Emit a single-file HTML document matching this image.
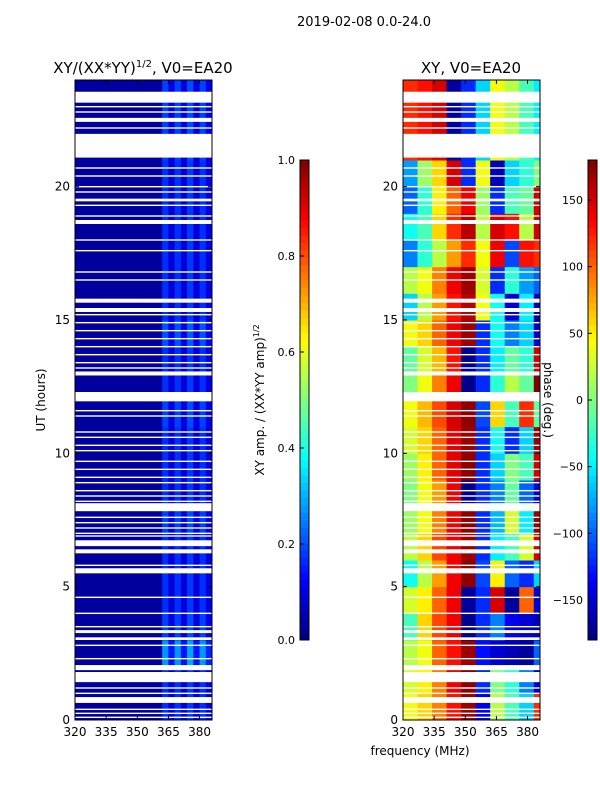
<!DOCTYPE html>
<html><head><meta charset="utf-8"><style>
body{margin:0;background:#fff;}
svg{display:block;font-family:"DejaVu Sans","Liberation Sans",sans-serif;}
</style></head><body>
<svg id="fig" width="600" height="800" xmlns="http://www.w3.org/2000/svg">
<text x="364" y="26" font-size="13" text-anchor="middle">2019-02-08 0.0-24.0</text>
<text x="143" y="73" font-size="15" text-anchor="middle">XY/(XX*YY)<tspan font-size="10" dy="-6">1/2</tspan><tspan dy="6">, V0=EA20</tspan></text>
<text x="471" y="73" font-size="15" text-anchor="middle">XY, V0=EA20</text>
<text x="45" y="400" font-size="12" text-anchor="middle" transform="rotate(-90 45 400)">UT (hours)</text>
<text x="420" y="755" font-size="12" text-anchor="middle">frequency (MHz)</text>
<text x="264" y="400" font-size="12" text-anchor="middle" transform="rotate(-90 264 400)">XY amp. / (XX*YY amp)<tspan font-size="8" dy="-5">1/2</tspan></text>
<g id="p1"></g>
<g id="p2"></g>
<g id="cb"></g>
<text x="544" y="400" font-size="12" text-anchor="middle" transform="rotate(90 544 400)">phase (deg.)</text>
</svg>
<script>
const hourBands=[0,1,2,3,4,5,6,7,8,9,10,11,12,13,14,15,16,17,18,19,20,21];
const freqCols=[320,327,334,341,348,355,362,369,376,383];
const phaseVals=[
[40,60,90,130,170,-140,20,-20,-60,120],
[30,50,90,140,175,-120,0,-30,-90,-150],
[20,40,100,130,170,-130,-150,-160,-170,-100],
[-20,60,110,140,-175,-120,-90,-140,-150,-160],
[30,50,100,140,-170,-120,150,-170,100,-150],
[-40,20,80,140,175,-110,50,-100,-120,-60],
[20,60,110,140,170,-120,-50,-20,30,150],
[10,40,90,140,175,-120,-70,30,-50,170],
[0,40,80,140,-175,-120,-90,-10,-100,-150],
[10,50,100,145,175,-120,-60,0,-20,150],
[30,60,100,145,170,-120,-40,-120,-60,170],
[40,70,110,150,175,-110,60,-20,120,-10],
[0,40,90,140,-175,-120,-30,20,-10,180],
[-10,30,70,130,-175,-120,-50,-10,-30,150],
[40,60,100,140,170,-120,-40,-90,-60,-150],
[-60,20,80,130,160,40,-40,-150,-50,-160],
[20,40,90,140,170,30,-120,-30,-80,-100],
[-90,-30,20,80,120,40,140,-110,130,120],
[-40,-20,60,120,160,20,150,130,20,150],
[-100,-30,50,100,140,10,-120,-20,-10,150],
[-80,10,60,150,-120,40,-160,-60,-30,0],
[120,130,150,-170,-120,-60,40,20,-20,-50]];
const ampFreq=[320,362,365,368,371,374,377,380,383];
const ampCols=[0.03,0.17,0.09,0.17,0.09,0.18,0.09,0.17,0.1];
const ampBandScale=[1,1,1.6,1.1,1,1,1,1.1,1,1,1,1.1,1,1,1.2,1,1,1,1,1,1,1.1];
const gaps=[[23.15,23.56],[22.43,22.58],[21.09,21.98],[19.45,19.55],[18.6,18.75],[15.65,15.8],[15.3,15.45],[12.92,13.07],[11.95,12.3],[7.83,8.13],[6.52,6.74],[6.25,6.4],[5.5,5.69],[3.26,3.37],[3.0,3.1],[1.87,2.06],[1.42,1.8],[0.64,0.86]];
const thin=[23.0,22.8,22.2,21.4,20.7,20.4,20.0,19.8,19.3,18.9,18.0,17.6,16.8,16.5,15.2,14.9,14.6,14.3,14.0,13.7,13.4,13.2,11.6,11.4,10.8,10.6,10.3,10.1,9.7,9.4,9.1,8.9,8.6,8.4,8.2,7.6,7.4,7.2,7.0,6.9,5.8,4.6,4.0,3.5,2.8,2.3,1.2,1.0,0.4,0.25,0.1];
const ampTicks=[0,0.2,0.4,0.6,0.8,1.0];
const phaseTicks=[-150,-100,-50,0,50,100,150];
const xTicks=[320,335,350,365,380];
const yTicks=[0,5,10,15,20];

const NS='http://www.w3.org/2000/svg';
function jet(t){t=Math.max(0,Math.min(1,t));const c=v=>Math.round(255*Math.max(0,Math.min(1,v)));
return `rgb(${c(1.5-Math.abs(4*t-3))},${c(1.5-Math.abs(4*t-2))},${c(1.5-Math.abs(4*t-1))})`;}
function mk(tag,attrs,parent){const e=document.createElementNS(NS,tag);for(const k in attrs)e.setAttribute(k,attrs[k]);parent.appendChild(e);return e;}
const Y0=720,Y1=80,FMIN=320,FMAX=386,HMAX=24;
function yS(h){return Y0-(h/HMAX)*(Y0-Y1);}
function panel(gid,x0,x1,fill){
  const g=document.getElementById(gid);
  const xS=f=>x0+(f-FMIN)/(FMAX-FMIN)*(x1-x0);
  fill(g,xS);
  gaps.forEach(gp=>{const r=mk('rect',{x:x0,y:yS(gp[1]),width:x1-x0,height:yS(gp[0])-yS(gp[1]),fill:'#fff'},g);
    
    });
  thin.forEach(h=>{mk('rect',{x:x0,y:yS(h)-0.7,width:x1-x0,height:1.4,fill:'#fff'},g);});
  mk('rect',{x:x0,y:Y1,width:x1-x0,height:Y0-Y1,fill:'none',stroke:'#000','stroke-width':1},g);
  xTicks.forEach(t=>{const x=xS(t);mk('line',{x1:x,x2:x,y1:Y0,y2:Y0-4,stroke:'#000'},g);mk('line',{x1:x,x2:x,y1:Y1,y2:Y1+4,stroke:'#000'},g);
    const tx=mk('text',{x:x,y:Y0+16,'font-size':12,'text-anchor':'middle'},g);tx.textContent=t;
    
    });
  yTicks.forEach(t=>{const y=yS(t);mk('line',{x1:x0,x2:x0+4,y1:y,y2:y,stroke:'#000'},g);mk('line',{x1:x1,x2:x1-4,y1:y,y2:y,stroke:'#000'},g);
    const tx=mk('text',{x:x0-5,y:y+4,'font-size':12,'text-anchor':'end'},g);tx.textContent=t;
    
    });
}
panel('p1',75,212,(g,xS)=>{
  hourBands.forEach((h,bi)=>{const h2=bi==hourBands.length-1?HMAX:hourBands[bi+1];
    ampFreq.forEach((f,ci)=>{const f2=ci==ampFreq.length-1?FMAX:ampFreq[ci+1];
      const v=ci==0?ampCols[0]:ampCols[ci]*ampBandScale[bi];
      const r=mk('rect',{x:xS(f),y:yS(h2),width:xS(f2)-xS(f)+0.5,height:yS(h)-yS(h2)+0.5,fill:jet(v)},g);
      
      });});
});
panel('p2',403,540,(g,xS)=>{
  hourBands.forEach((h,bi)=>{const h2=bi==hourBands.length-1?HMAX:hourBands[bi+1];
    freqCols.forEach((f,ci)=>{const f2=ci==freqCols.length-1?FMAX:freqCols[ci+1];
      const v=phaseVals[bi][ci];
      const r=mk('rect',{x:xS(f),y:yS(h2),width:xS(f2)-xS(f)+0.5,height:yS(h)-yS(h2)+0.5,fill:jet((v+180)/360)},g);
      
      });});
});
function cbar(x,lo,hi,ticks,fmt){
  const g=document.getElementById('cb');const y0=640,y1=160,n=64;
  for(let i=0;i<n;i++){mk('rect',{x:x,y:y0-(i+1)*(y0-y1)/n,width:9,height:(y0-y1)/n+0.5,fill:jet((i+0.5)/n)},g);}
  mk('rect',{x:x,y:y1,width:9,height:y0-y1,fill:'none',stroke:'#000'},g);
  ticks.forEach(t=>{const y=y0-(t-lo)/(hi-lo)*(y0-y1);mk('line',{x1:x,x2:x+4,y1:y,y2:y,stroke:'#000'},g);
    const tx=mk('text',{x:x-5,y:y+4,'font-size':11,'text-anchor':'end'},g);tx.textContent=fmt(t);
    
    });
}
cbar(300,0,1,ampTicks,t=>t.toFixed(1));
cbar(588,-180,180,phaseTicks,t=>t<0?'\u2212'+(-t):String(t));
</script>
</body></html>
